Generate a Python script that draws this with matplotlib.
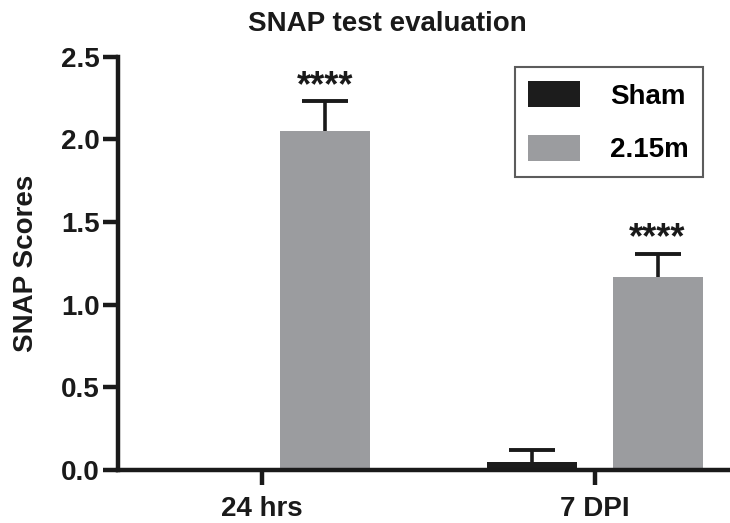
import matplotlib.pyplot as plt
import numpy as np

plt.rcParams['font.family'] = ['Liberation Sans', 'DejaVu Sans']
plt.rcParams['font.weight'] = 'bold'

groups = ["24 hrs", "7 DPI"]
sham = [0.0, 0.05]
sham_err = [0.0, 0.07]
treated = [2.05, 1.17]
treated_err = [0.18, 0.14]
stars = ["****", "****"]

ink = '#1a1a1a'
fig = plt.figure(figsize=(7.3, 5.23), dpi=100)
ax = fig.add_axes([0.1616, 0.1013, 0.84, 0.79])

x = np.arange(len(groups))
w = 0.27
off = 0.189

ax.bar(x - off, sham, w, color='#1c1c1c', label='Sham', zorder=2)
ax.bar(x + off, treated, w, color='#9b9c9f', label='2.15m', zorder=2)

# upper-only error bars
for xs, vals, errs in [(x - off, sham, sham_err), (x + off, treated, treated_err)]:
    vals = np.array(vals)
    errs = np.array(errs)
    m = errs > 0
    top = vals + errs
    ax.vlines(xs[m], vals[m], top[m], color=ink, lw=2.6, zorder=3)
    ax.plot(xs[m], top[m], ls='none', marker='_', ms=33, mew=2.8, color=ink, zorder=3)

for xi, v, e, s in zip(x + off, treated, treated_err, stars):
    ax.annotate(s, (xi, v + e), xytext=(0, 4), textcoords='offset points',
                ha='center', va='baseline', fontsize=26, fontweight='bold', color=ink)

ax.set_xlim(-0.432, 1.41)
ax.set_ylim(0, 2.5)
ax.set_yticks([0, 0.5, 1.0, 1.5, 2.0, 2.5])
ax.set_yticklabels(['0.0', '0.5', '1.0', '1.5', '2.0', '2.5'])
ax.set_xticks(x)
ax.set_xticklabels(groups)

for sp in ['top', 'right']:
    ax.spines[sp].set_visible(False)
for sp in ['left', 'bottom']:
    ax.spines[sp].set_linewidth(3.2)
    ax.spines[sp].set_color(ink)
    ax.spines[sp].set_zorder(4)

ax.tick_params(axis='both', width=3.2, length=11, color=ink,
               labelsize=20, labelcolor=ink)
ax.tick_params(axis='y', pad=2)
ax.tick_params(axis='x', pad=8)
for lab in ax.get_xticklabels() + ax.get_yticklabels():
    lab.set_fontweight('bold')

ax.set_ylabel('SNAP Scores', fontsize=20, fontweight='bold', color=ink, labelpad=16)
fig.text(0.531, 0.955, 'SNAP test evaluation', ha='center', va='center',
         fontsize=20, fontweight='bold', color=ink)

leg = ax.legend(loc='upper right', bbox_to_anchor=(0.963, 0.872),
                bbox_transform=fig.transFigure, borderaxespad=0, fontsize=20,
                frameon=True, fancybox=False, edgecolor='#333333',
                handlelength=1.85, handleheight=1.1, handletextpad=1.1,
                borderpad=0.5, labelspacing=0.9)
leg.get_frame().set_linewidth(1.5)
for t in leg.get_texts():
    t.set_fontweight('bold')

fig.savefig('out.png', dpi=100)
